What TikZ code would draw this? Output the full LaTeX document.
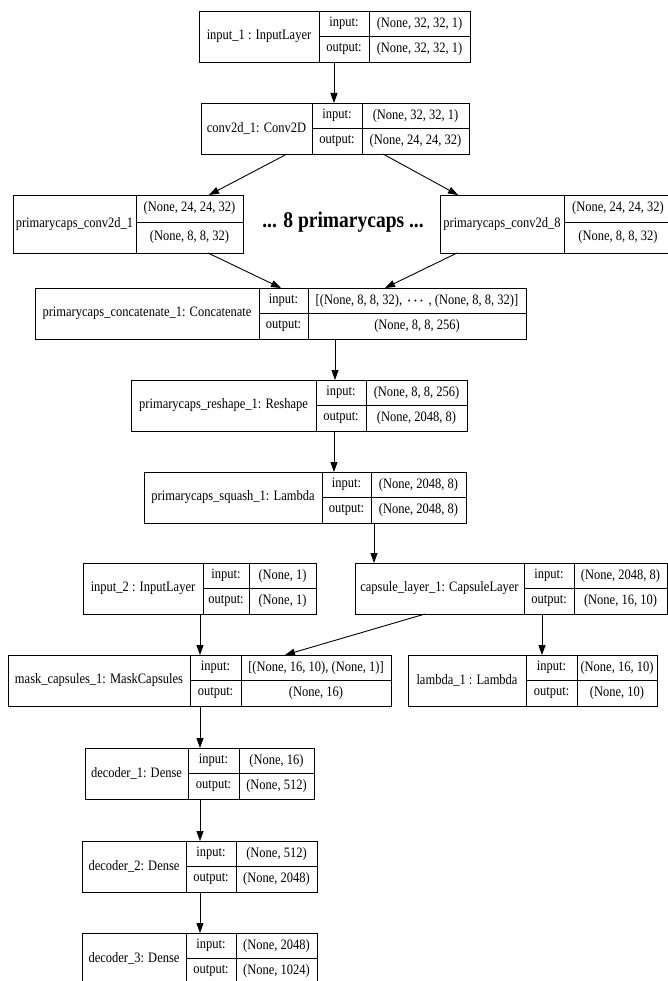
\documentclass[tikz,border=0pt]{standalone}
\usepackage{fontspec}
\setmainfont{Liberation Serif}
\usetikzlibrary{arrows.meta}

\tikzset{
  rec/.style={draw, line width=0.9pt, inner sep=0pt, outer sep=0pt,
    anchor=north west},
  rule/.style={line width=0.9pt},
  txt/.style={inner sep=0pt, font=\fontsize{12.5}{14}\selectfont},
  dotstxt/.style={inner sep=0pt, font=\fontsize{19.5}{22}\selectfont\bfseries},
  arr/.style={-{Triangle[length=10pt,width=7pt]}, line width=0.9pt},
}

% graphviz text is a bit taller than plain times
\newcommand{\tallt}[1]{\scalebox{1}[1.15]{#1}}

% keras layer record: id, left, div1, div2, right, top, name, input, output
\newcommand{\layerrec}[9]{%
  \node[rec, minimum width={#5pt-#2pt}, minimum height=51pt] (#1) at (#2,#6) {};
  \draw[rule] (#3,#6) -- (#3,{#6+51})
    (#4,#6) -- (#4,{#6+51})
    (#3,{#6+25.5}) -- (#5,{#6+25.5});
  \node[txt] (#1-nm) at ({(#2+#3)/2},{#6+25.5}) {\tallt{#7}};
  \node[txt] (#1-il) at ({(#3+#4)/2},{#6+12.75}) {\tallt{input:}};
  \node[txt] (#1-ol) at ({(#3+#4)/2},{#6+38.25}) {\tallt{output:}};
  \node[txt] (#1-iv) at ({(#4+#5)/2},{#6+12.75}) {\tallt{#8}};
  \node[txt] (#1-ov) at ({(#4+#5)/2},{#6+38.25}) {\tallt{#9}};
}

% primary capsule record: id, left, div, right, top, name, input, output
\newcommand{\capsrec}[8]{%
  \node[rec, minimum width={#4pt-#2pt}, minimum height=58pt] (#1) at (#2,#5) {};
  \draw[rule] (#3,#5) -- (#3,{#5+58})
    (#3,{#5+27}) -- (#4,{#5+27});
  \node[txt] (#1-nm) at ({(#2+#3)/2},{#5+29}) {\tallt{#6}};
  \node[txt] (#1-iv) at ({(#3+#4)/2},{#5+13.5}) {\tallt{#7}};
  \node[txt] (#1-ov) at ({(#3+#4)/2},{#5+42.5}) {\tallt{#8}};
}

\begin{document}
\begin{tikzpicture}[x=1pt, y=-1pt]
  \useasboundingbox (0,0) rectangle (668,981);

  % inputs and first conv
  \layerrec{in1}{199}{319}{369}{470}{11}{input\_1 : InputLayer}{(None, 32, 32, 1)}{(None, 32, 32, 1)}
  \layerrec{conv}{201}{312}{362}{469}{103}{conv2d\_1: Conv2D}{(None, 32, 32, 1)}{(None, 24, 24, 32)}

  % primary capsules
  \capsrec{pc1}{13}{136}{243}{195}{primarycaps\_conv2d\_1}{(None, 24, 24, 32)}{(None, 8, 8, 32)}
  \capsrec{pc8}{440}{564}{672}{195}{primarycaps\_conv2d\_8}{(None, 24, 24, 32)}{(None, 8, 8, 32)}
  \node[dotstxt] (more) at (343,222) {\tallt{... 8 primarycaps ...}};

  \layerrec{conc}{35}{259}{308}{526}{288}{primarycaps\_concatenate\_1: Concatenate}{[(None, 8, 8, 32), \,{\boldmath$\cdots$}\, , (None, 8, 8, 32)]}{(None, 8, 8, 256)}
  \layerrec{resh}{131}{316}{366}{467}{380}{primarycaps\_reshape\_1: Reshape}{(None, 8, 8, 256)}{(None, 2048, 8)}
  \layerrec{squash}{144}{322}{371}{466}{472}{primarycaps\_squash\_1: Lambda}{(None, 2048, 8)}{(None, 2048, 8)}

  % capsules and mask
  \layerrec{in2}{83}{203}{249}{316}{563}{input\_2 : InputLayer}{(None, 1)}{(None, 1)}
  \layerrec{caps}{355}{524}{574}{667}{563}{capsule\_layer\_1: CapsuleLayer}{(None, 2048, 8)}{(None, 16, 10)}
  \layerrec{mask}{8}{190}{241}{391}{655}{mask\_capsules\_1: MaskCapsules}{[(None, 16, 10), (None, 1)]}{(None, 16)}
  \layerrec{lam}{408}{526}{577}{657}{655}{lambda\_1 : Lambda}{(None, 16, 10)}{(None, 10)}

  % decoder
  \layerrec{dec1}{85}{188}{239}{314}{748}{decoder\_1: Dense}{(None, 16)}{(None, 512)}
  \layerrec{dec2}{82}{186}{236}{317}{841}{decoder\_2: Dense}{(None, 512)}{(None, 2048)}
  \layerrec{dec3}{82}{186}{236}{317}{933}{decoder\_3: Dense}{(None, 2048)}{(None, 1024)}

  % edges
  \draw[arr] (in1.south -| 334,0) -- (conv.north -| 334,0);
  \draw[arr] (conv.south -| 287,0) -- (pc1.north -| 209,0);
  \draw[arr] (conv.south -| 383,0) -- (pc8.north -| 458,0);
  \draw[arr] (pc1.south -| 208,0) -- (conc.north -| 281,0);
  \draw[arr] (pc8.south -| 457,0) -- (conc.north -| 385,0);
  \draw[arr] (conc.south -| 335,0) -- (resh.north -| 335,0);
  \draw[arr] (resh.south -| 334,0) -- (squash.north -| 334,0);
  \draw[arr] (squash.south -| 374,0) -- (caps.north -| 374,0);
  \draw[arr] (in2.south -| 200,0) -- (mask.north -| 200,0);
  \draw[arr] (caps.south -| 425,0) -- (mask.north -| 285,0);
  \draw[arr] (caps.south -| 542,0) -- (lam.north -| 542,0);
  \draw[arr] (mask.south -| 200,0) -- (dec1.north -| 200,0);
  \draw[arr] (dec1.south -| 200,0) -- (dec2.north -| 200,0);
  \draw[arr] (dec2.south -| 200,0) -- (dec3.north -| 200,0);
\end{tikzpicture}
\end{document}
